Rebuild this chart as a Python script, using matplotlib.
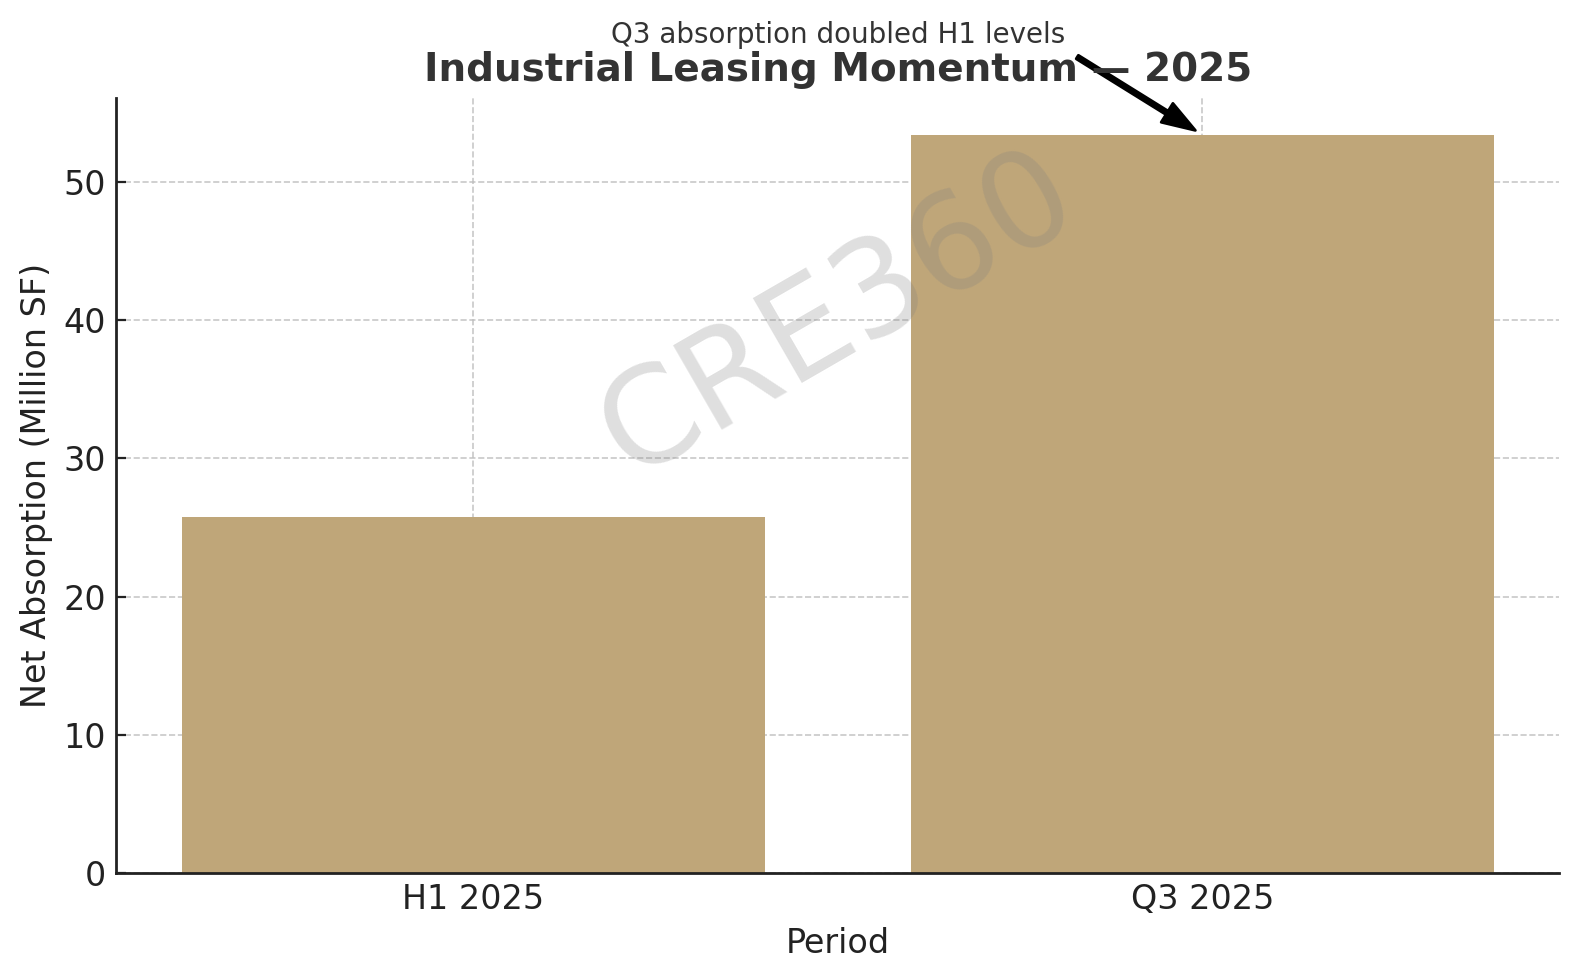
import numpy as np
import matplotlib
matplotlib.use("Agg")
import matplotlib.pyplot as plt

# data
periods = ["H1 2025", "Q3 2025"]
absorption = [25.8, 53.4]   # million SF
note = "Q3 absorption doubled H1 levels"

bar_color = "#BFA679"
text_color = "#333333"

plt.rcParams['font.family'] = ['DejaVu Sans']

fig = plt.figure(figsize=(7.9, 4.9), dpi=200)
ax = fig.add_axes([0.0734, 0.1087, 0.9136, 0.7916])

x = np.arange(len(periods))
ax.bar(x, absorption, width=0.8, color=bar_color, zorder=2)
ax.set_xticks(x)
ax.set_xticklabels(periods)

ax.set_title("Industrial Leasing Momentum — 2025", fontsize=14, fontweight="bold",
             color=text_color, pad=6)
ax.set_xlabel("Period", fontsize=12, color="#222222")
ax.set_ylabel("Net Absorption (Million SF)", fontsize=12, color="#222222")
ax.tick_params(labelsize=12, colors="#222222", direction="in")

ax.grid(True, linestyle="--", linewidth=0.6, color="#bbbbbb", alpha=0.8, zorder=0)
ax.set_axisbelow(True)
for s in ["top", "right"]:
    ax.spines[s].set_visible(False)
for s in ["left", "bottom"]:
    ax.spines[s].set_color("#222222")
    ax.spines[s].set_linewidth(1.0)

# annotation
ax.annotate(note, xy=(1, absorption[1]), xytext=(0.5, 60),
            ha="center", fontsize=10, color=text_color,
            arrowprops=dict(facecolor="black", edgecolor="black", shrink=0.05,
                            width=1.5, headwidth=8, headlength=12),
            annotation_clip=False)

# watermark
ax.text(0.5, 0.72, "CRE360", transform=ax.transAxes, fontsize=48,
        color="gray", alpha=0.25, rotation=30, ha="center", va="center", zorder=5)

fig.savefig("out.png", dpi=200)
